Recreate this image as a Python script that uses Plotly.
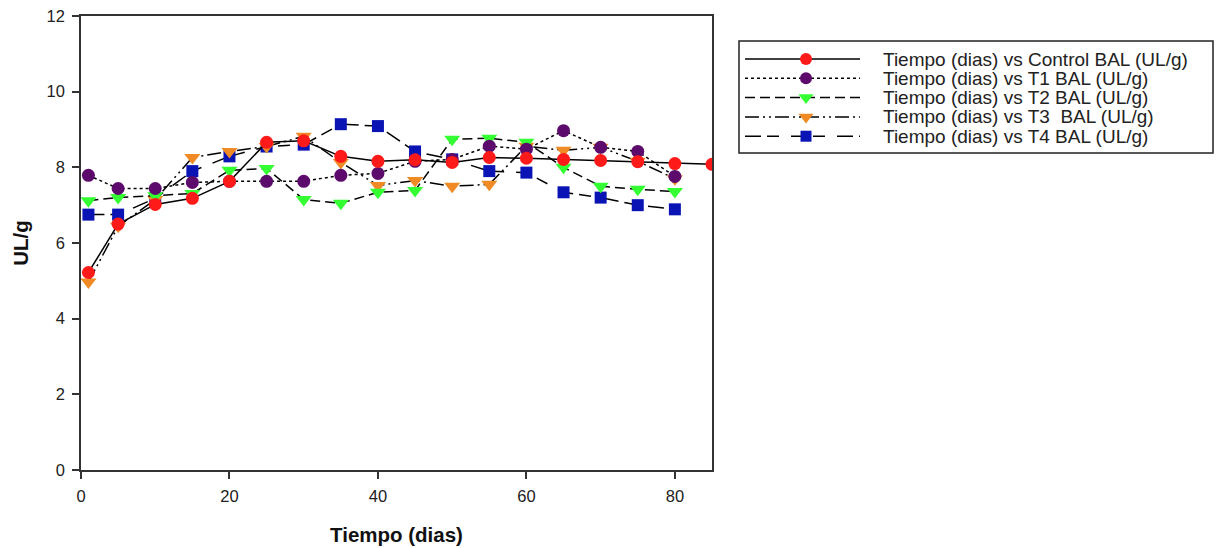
import plotly.graph_objects as go

dias = [1, 5, 10, 15, 20, 25, 30, 35, 40, 45, 50, 55, 60, 65, 70, 75, 80]
dias_control = dias + [85]

control = [5.22, 6.5, 7.02, 7.18, 7.63, 8.66, 8.7, 8.29, 8.16, 8.2, 8.13, 8.26, 8.24, 8.21, 8.18, 8.15, 8.1, 8.08]
t1 = [7.79, 7.44, 7.44, 7.6, 7.63, 7.63, 7.63, 7.79, 7.84, 8.16, 8.21, 8.56, 8.48, 8.97, 8.53, 8.42, 7.76]
t2 = [7.12, 7.2, 7.25, 7.31, 7.92, 7.97, 7.15, 7.05, 7.34, 7.39, 8.74, 8.77, 8.66, 8.0, 7.5, 7.42, 7.36]
t3 = [4.97, 6.44, 7.15, 8.26, 8.42, 8.55, 8.82, 8.13, 7.52, 7.65, 7.5, 7.55, 8.56, 8.45, 8.53, 8.16, 7.7]
t4 = [6.75, 6.75, 7.18, 7.9, 8.29, 8.55, 8.6, 9.14, 9.09, 8.42, 8.21, 7.9, 7.86, 7.34, 7.2, 7.0, 6.89]

names = [
    "Tiempo (dias) vs Control BAL (UL/g)",
    "Tiempo (dias) vs T1 BAL (UL/g)",
    "Tiempo (dias) vs T2 BAL (UL/g)",
    "Tiempo (dias) vs T3  BAL (UL/g)",
    "Tiempo (dias) vs T4 BAL (UL/g)",
]
xs = [dias_control, dias, dias, dias, dias]
ys = [control, t1, t2, t3, t4]
colors = ["#ff1a1a", "#5c0a6b", "#33ff33", "#f08a24", "#0a14b4"]
symbols = ["circle", "circle", "triangle-down", "triangle-down", "square"]
dashes = ["solid", "dot", "10px,5px", "14px,4px,2px,4px,2px,4px", "16px,6px,12px,12px"]
sizes = [13, 13, 14, 14, 12]

fig = go.Figure()
order = [4, 3, 2, 1, 0]
for i in order:
    fig.add_trace(go.Scatter(
        x=xs[i], y=ys[i], mode="lines+markers", name=names[i],
        line=dict(color="black", width=1.5, dash=dashes[i]),
        marker=dict(color=colors[i], symbol=symbols[i], size=sizes[i], line=dict(width=0)),
        showlegend=False, xaxis="x", yaxis="y",
    ))

W, H = 1216, 548
L, R, T, B = 81, 0, 16, 78
pw = W - L - R
ph = H - T - B
plot_right = 712
leg_l, leg_r, leg_t, leg_b = 739, 1213, 41, 153
row0, row_step = 59, 19.3

# custom legend (helper axis spanning the whole paper, in pixel units)
for k in range(5):
    yk = row0 + k * row_step
    fig.add_trace(go.Scatter(
        x=[745, 860], y=[yk, yk], mode="lines",
        line=dict(color="black", width=1.5, dash=dashes[k]),
        showlegend=False, xaxis="x2", yaxis="y2", hoverinfo="skip",
    ))
    fig.add_trace(go.Scatter(
        x=[806], y=[yk], mode="markers",
        marker=dict(color=colors[k], symbol=symbols[k], size=sizes[k] - 1, line=dict(width=0)),
        showlegend=False, xaxis="x2", yaxis="y2", hoverinfo="skip",
    ))
    fig.add_annotation(
        x=881, y=yk, xref="x2", yref="y2", text=names[k], showarrow=False,
        xanchor="left", yanchor="middle",
        font=dict(family="Liberation Sans, Arial", size=19, color="#222"),
    )

fig.add_shape(type="rect", xref="paper", yref="paper",
              x0=(leg_l - L) / pw, x1=(leg_r - L) / pw,
              y0=(H - B - leg_b) / ph, y1=(H - B - leg_t) / ph,
              line=dict(color="#222", width=1.5), fillcolor="rgba(0,0,0,0)")

tickfont = dict(family="Liberation Sans, Arial", size=16.5, color="#222")
titlefont = dict(family="Liberation Sans, Arial", size=20.5, color="#111", weight="bold")

fig.update_layout(
    width=W, height=H,
    margin=dict(l=L, r=R, t=T, b=B),
    paper_bgcolor="white", plot_bgcolor="rgba(0,0,0,0)",
    xaxis=dict(
        domain=[0, (plot_right - L) / pw], range=[0, 85],
        tickvals=[0, 20, 40, 60, 80], ticks="outside", ticklen=7, tickwidth=1.5, tickcolor="#333",
        showline=True, linecolor="#333", linewidth=1.5, mirror=True, showgrid=False, zeroline=False,
        tickfont=tickfont, ticklabelstandoff=3,
        title=dict(text="Tiempo (dias)", font=titlefont, standoff=24),
    ),
    yaxis=dict(
        domain=[0, 1], range=[0, 12],
        tickvals=[0, 2, 4, 6, 8, 10, 12], ticks="outside", ticklen=7, tickwidth=1.5, tickcolor="#333",
        showline=True, linecolor="#333", linewidth=1.5, mirror=True, showgrid=False, zeroline=False,
        tickfont=tickfont, ticklabelstandoff=4,
        title=dict(text="UL/g", font=titlefont, standoff=12),
    ),
    xaxis2=dict(domain=[0.0, 1.0], range=[L, W], visible=False,
                anchor="y2", fixedrange=True),
    yaxis2=dict(domain=[0, 1], range=[H - B, T], visible=False,
                anchor="x2", fixedrange=True),
)

fig.write_html("out.html")
